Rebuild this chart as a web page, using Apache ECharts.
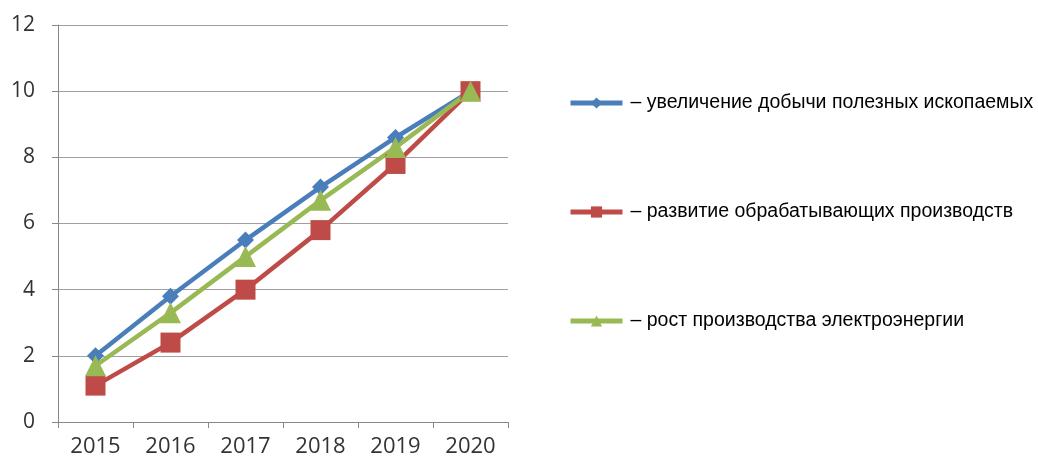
<!DOCTYPE html>
<html><head><meta charset="utf-8">
<script src="https://cdn.jsdelivr.net/npm/echarts@6/dist/echarts.min.js"></script>
<style>html,body{margin:0;padding:0;background:#fff}#c{width:1038px;height:464px}</style>
</head><body><div id="c"></div>
<script>
const categories = ['2015','2016','2017','2018','2019','2020'];
const seriesNames = ['увеличение добычи полезных ископаемых','развитие обрабатывающих производств','рост производства электроэнергии'];
const mining = [2.0, 3.8, 5.5, 7.1, 8.6, 10];
const manufacturing = [1.1, 2.4, 4.0, 5.8, 7.8, 10];
const electricity = [1.7, 3.3, 5.0, 6.7, 8.3, 10];
const yTicks = {min: 0, max: 12, interval: 2};

const colors = ['#4a7ebb', '#be4b48', '#98b954'];
const chart = echarts.init(document.getElementById('c'), null, {renderer: 'canvas'});
const mk = (name, data, color, symbol, size) => ({
  name, type: 'line', data, symbol, symbolSize: size,
  lineStyle: {color, width: 4.5}, itemStyle: {color},
  emphasis: {disabled: true}, animation: false
});
chart.setOption({
  animation: false,
  grid: {left: 58, right: 530, top: 25, bottom: 42},
  legend: {
    orient: 'vertical', left: 563, top: 88, itemGap: 89,
    itemWidth: 52, itemHeight: 14,
    lineStyle: {width: 5},
    textStyle: {fontFamily: '"Liberation Sans", Arial, sans-serif', fontSize: 19.5, color: '#000', padding: [0, 0, 0, 3]},
    formatter: n => '– ' + n,
    data: seriesNames
  },
  xAxis: {
    type: 'category', data: categories, boundaryGap: true,
    axisLine: {lineStyle: {color: '#888', width: 1}},
    axisTick: {show: true, length: 6, lineStyle: {color: '#888'}},
    axisLabel: {fontFamily: '"Open Sans", sans-serif', fontSize: 22, color: '#333', margin: 14}
  },
  yAxis: {
    type: 'value', min: yTicks.min, max: yTicks.max, interval: yTicks.interval,
    axisLine: {show: true, lineStyle: {color: '#888', width: 1}},
    axisTick: {show: true, length: 6, lineStyle: {color: '#888'}},
    splitLine: {lineStyle: {color: '#a0a0a0', width: 1}},
    axisLabel: {fontFamily: '"Open Sans", sans-serif', fontSize: 21, color: '#333', margin: 23}
  },
  series: [
    mk(seriesNames[0], mining, colors[0], 'diamond', 17),
    mk(seriesNames[1], manufacturing, colors[1], 'rect', 20),
    mk(seriesNames[2], electricity, colors[2], 'triangle', 21)
  ]
});
</script></body></html>
